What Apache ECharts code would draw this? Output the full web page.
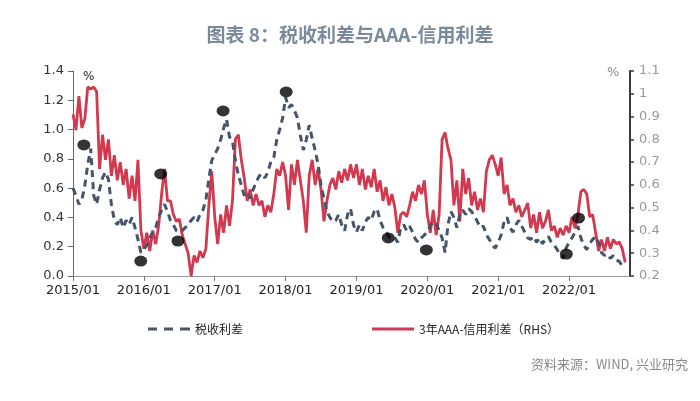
<!DOCTYPE html>
<html>
<head>
<meta charset="utf-8">
<script src="https://cdn.jsdelivr.net/npm/echarts@6/dist/echarts.min.js"></script>
<style>html,body{margin:0;padding:0;background:#fff}#c{width:700px;height:401px}</style>
</head>
<body>
<div id="c"></div>
<script>
// Semi-monthly readings (24 per year)
const years = [2015, 2016, 2017, 2018, 2019, 2020, 2021, 2022];

// 税收利差 (left axis, %)
const tax2015 = [0.60,0.55,0.49,0.52,0.62,0.76,0.87,0.55,0.49,0.59,0.67,0.71,0.66,0.49,0.38,0.35,0.40,0.33,0.38,0.35,0.40,0.33,0.25,0.16];
const tax2016 = [0.18,0.21,0.26,0.30,0.33,0.40,0.45,0.49,0.44,0.38,0.35,0.31,0.30,0.31,0.33,0.35,0.38,0.40,0.37,0.42,0.45,0.52,0.66,0.79];
const tax2017 = [0.83,0.87,0.93,1.01,1.07,0.95,0.92,0.79,0.69,0.62,0.55,0.57,0.53,0.59,0.64,0.68,0.70,0.67,0.71,0.78,0.81,0.93,1.00,1.08];
const tax2018 = [1.22,1.15,1.17,1.13,1.08,0.96,0.86,0.93,1.03,0.94,0.86,0.76,0.62,0.53,0.44,0.40,0.37,0.38,0.42,0.35,0.31,0.42,0.46,0.35];
const tax2019 = [0.30,0.35,0.31,0.37,0.40,0.38,0.44,0.46,0.38,0.33,0.30,0.27,0.25,0.26,0.23,0.33,0.35,0.31,0.34,0.30,0.25,0.23,0.26,0.28];
const tax2020 = [0.30,0.34,0.37,0.36,0.31,0.26,0.16,0.35,0.44,0.40,0.33,0.42,0.45,0.42,0.46,0.44,0.41,0.37,0.33,0.34,0.28,0.25,0.21,0.19];
const tax2021 = [0.23,0.28,0.37,0.40,0.33,0.30,0.35,0.38,0.34,0.30,0.26,0.25,0.27,0.23,0.26,0.22,0.25,0.27,0.23,0.21,0.18,0.14,0.12,0.19];
const tax2022 = [0.23,0.26,0.30,0.34,0.26,0.21,0.18,0.22,0.25,0.27,0.23,0.16,0.14,0.15,0.12,0.14,0.11,0.10,0.07,0.06];

// 3年AAA-信用利差 (right axis, %)
const aaa2015 = [0.91,0.84,0.99,0.85,0.89,1.03,1.02,1.03,1.01,0.67,0.82,0.71,0.80,0.64,0.73,0.62,0.70,0.60,0.67,0.54,0.64,0.53,0.71,0.40];
const aaa2016 = [0.32,0.39,0.31,0.40,0.34,0.42,0.56,0.67,0.53,0.53,0.47,0.44,0.45,0.38,0.34,0.30,0.20,0.29,0.26,0.31,0.28,0.32,0.51,0.66];
const aaa2017 = [0.46,0.34,0.47,0.39,0.51,0.42,0.53,0.80,0.82,0.71,0.63,0.53,0.58,0.51,0.56,0.51,0.53,0.46,0.51,0.48,0.56,0.67,0.64,0.70];
const aaa2018 = [0.64,0.49,0.69,0.60,0.71,0.62,0.53,0.39,0.64,0.71,0.60,0.67,0.58,0.44,0.53,0.60,0.63,0.58,0.66,0.61,0.67,0.62,0.69,0.63];
const aaa2019 = [0.69,0.60,0.67,0.58,0.64,0.59,0.67,0.57,0.62,0.53,0.59,0.51,0.56,0.50,0.39,0.47,0.48,0.46,0.51,0.57,0.53,0.60,0.56,0.62];
const aaa2020 = [0.47,0.39,0.49,0.38,0.47,0.80,0.83,0.76,0.71,0.51,0.62,0.44,0.67,0.56,0.63,0.51,0.57,0.49,0.54,0.48,0.66,0.71,0.73,0.69];
const aaa2021 = [0.64,0.72,0.56,0.60,0.51,0.54,0.48,0.51,0.46,0.49,0.52,0.41,0.47,0.39,0.48,0.41,0.44,0.49,0.40,0.42,0.37,0.41,0.38,0.42];
const aaa2022 = [0.39,0.46,0.41,0.47,0.57,0.58,0.56,0.46,0.47,0.39,0.31,0.36,0.31,0.37,0.32,0.36,0.34,0.35,0.32,0.26];

// Black annotation dots on the 税收利差 series
const dotDates = ['2015-02-26','2015-12-16','2016-03-28','2016-06-25','2017-02-13','2018-01-04','2019-06-14','2019-12-27','2021-12-18','2022-02-19'];
const dotValues = [0.895,0.102,0.697,0.239,1.127,1.257,0.26,0.178,0.15,0.396];

const xTickYears = [2015,2016,2017,2018,2019,2020,2021,2022];

function build(arrs) {
  const out = [];
  arrs.forEach((arr, yi) => arr.forEach((v, i) => out.push([years[yi] + i / 24, v])));
  return out;
}
function toYear(s) {
  const d = new Date(s + 'T00:00:00Z');
  const y = d.getUTCFullYear();
  const start = Date.UTC(y, 0, 1), end = Date.UTC(y + 1, 0, 1);
  return y + (d - start) / (end - start);
}
const taxData = build([tax2015,tax2016,tax2017,tax2018,tax2019,tax2020,tax2021,tax2022]);
const aaaData = build([aaa2015,aaa2016,aaa2017,aaa2018,aaa2019,aaa2020,aaa2021,aaa2022]);
const dotData = dotDates.map((d, i) => [toYear(d), dotValues[i]]);

const chart = echarts.init(document.getElementById('c'), null, {renderer: 'canvas'});
const cjk = '"Noto Sans CJK SC", "Noto Sans", sans-serif';
chart.setOption({
  animation: false,
  backgroundColor: '#fff',
  title: {
    text: '图表 8：税收利差与AAA-信用利差',
    left: 'center', top: 20,
    textStyle: {fontFamily: cjk, fontSize: 19, fontWeight: 'bold', color: '#7a899c'}
  },
  graphic: [
    {type: 'text', left: 83, top: 71, style: {text: '%', font: '12px "DejaVu Sans", sans-serif', fill: '#222'}},
    {type: 'text', left: 607, top: 66, style: {text: '%', font: '13px "DejaVu Sans", sans-serif', fill: '#888'}},
    {type: 'text', right: 12, top: 358, style: {text: '资料来源：WIND, 兴业研究', font: '13px "Noto Sans CJK SC", sans-serif', fill: '#8a8a8a'}}
  ],
  legend: {
    left: 143, top: 318, orient: 'horizontal',
    itemWidth: 42, itemHeight: 3, itemGap: 129,
    textStyle: {fontFamily: cjk, fontSize: 12, color: '#222'},
    data: [
      {name: '税收利差', icon: 'path://M0,0h9v3h-9z M16,0h9v3h-9z M32,0h10v3h-10z', itemStyle: {color: '#44546a'}},
      {name: '3年AAA-信用利差（RHS）', icon: 'rect', itemStyle: {color: '#d2394f'}}
    ]
  },
  grid: {left: 73, right: 70, top: 71, bottom: 125, containLabel: false},
  xAxis: {
    type: 'value', min: 2015, max: 2022.86, interval: 1,
    axisLine: {lineStyle: {color: '#999', width: 1}},
    axisTick: {show: true, length: 5, lineStyle: {color: '#777'}},
    splitLine: {show: false},
    axisLabel: {
      showMaxLabel: false, color: '#222', fontSize: 13, margin: 8,
      fontFamily: '"DejaVu Sans", sans-serif',
      formatter: v => xTickYears.indexOf(Math.round(v)) >= 0 && Math.abs(v - Math.round(v)) < 1e-6 ? Math.round(v) + '/01' : ''
    }
  },
  yAxis: [
    {
      type: 'value', min: 0, max: 1.4, interval: 0.2,
      axisLine: {show: true, lineStyle: {color: '#666', width: 1}},
      axisTick: {show: true, length: 5, lineStyle: {color: '#666'}},
      splitLine: {show: false},
      axisLabel: {color: '#333', fontSize: 13, margin: 9, fontFamily: '"DejaVu Sans", sans-serif', formatter: v => v.toFixed(1)}
    },
    {
      type: 'value', min: 0.2, max: 1.1, interval: 0.1, position: 'right',
      axisLine: {show: true, lineStyle: {color: '#3a3a3a', width: 2}},
      axisTick: {show: true, length: 4, lineStyle: {color: '#3a3a3a', width: 1.5}},
      splitLine: {show: false},
      axisLabel: {color: '#999', fontSize: 13, margin: 9, fontFamily: '"DejaVu Sans", sans-serif', formatter: v => String(parseFloat(v.toFixed(1)))}
    }
  ],
  series: [
    {
      name: '3年AAA-信用利差（RHS）', type: 'line', yAxisIndex: 1, data: aaaData,
      showSymbol: false, symbol: 'none', z: 2,
      lineStyle: {color: '#d2394f', width: 2.8}, itemStyle: {color: '#d2394f'}
    },
    {
      name: '税收利差', type: 'line', yAxisIndex: 0, data: taxData,
      showSymbol: false, symbol: 'none', z: 3,
      lineStyle: {color: '#44546a', width: 3, type: [7, 5]}, itemStyle: {color: '#44546a'}
    },
    {
      name: 'dots', type: 'scatter', yAxisIndex: 0, data: dotData,
      symbol: 'circle', symbolSize: [13, 11], z: 5,
      itemStyle: {color: '#000'}
    }
  ]
});
</script>
</body>
</html>
